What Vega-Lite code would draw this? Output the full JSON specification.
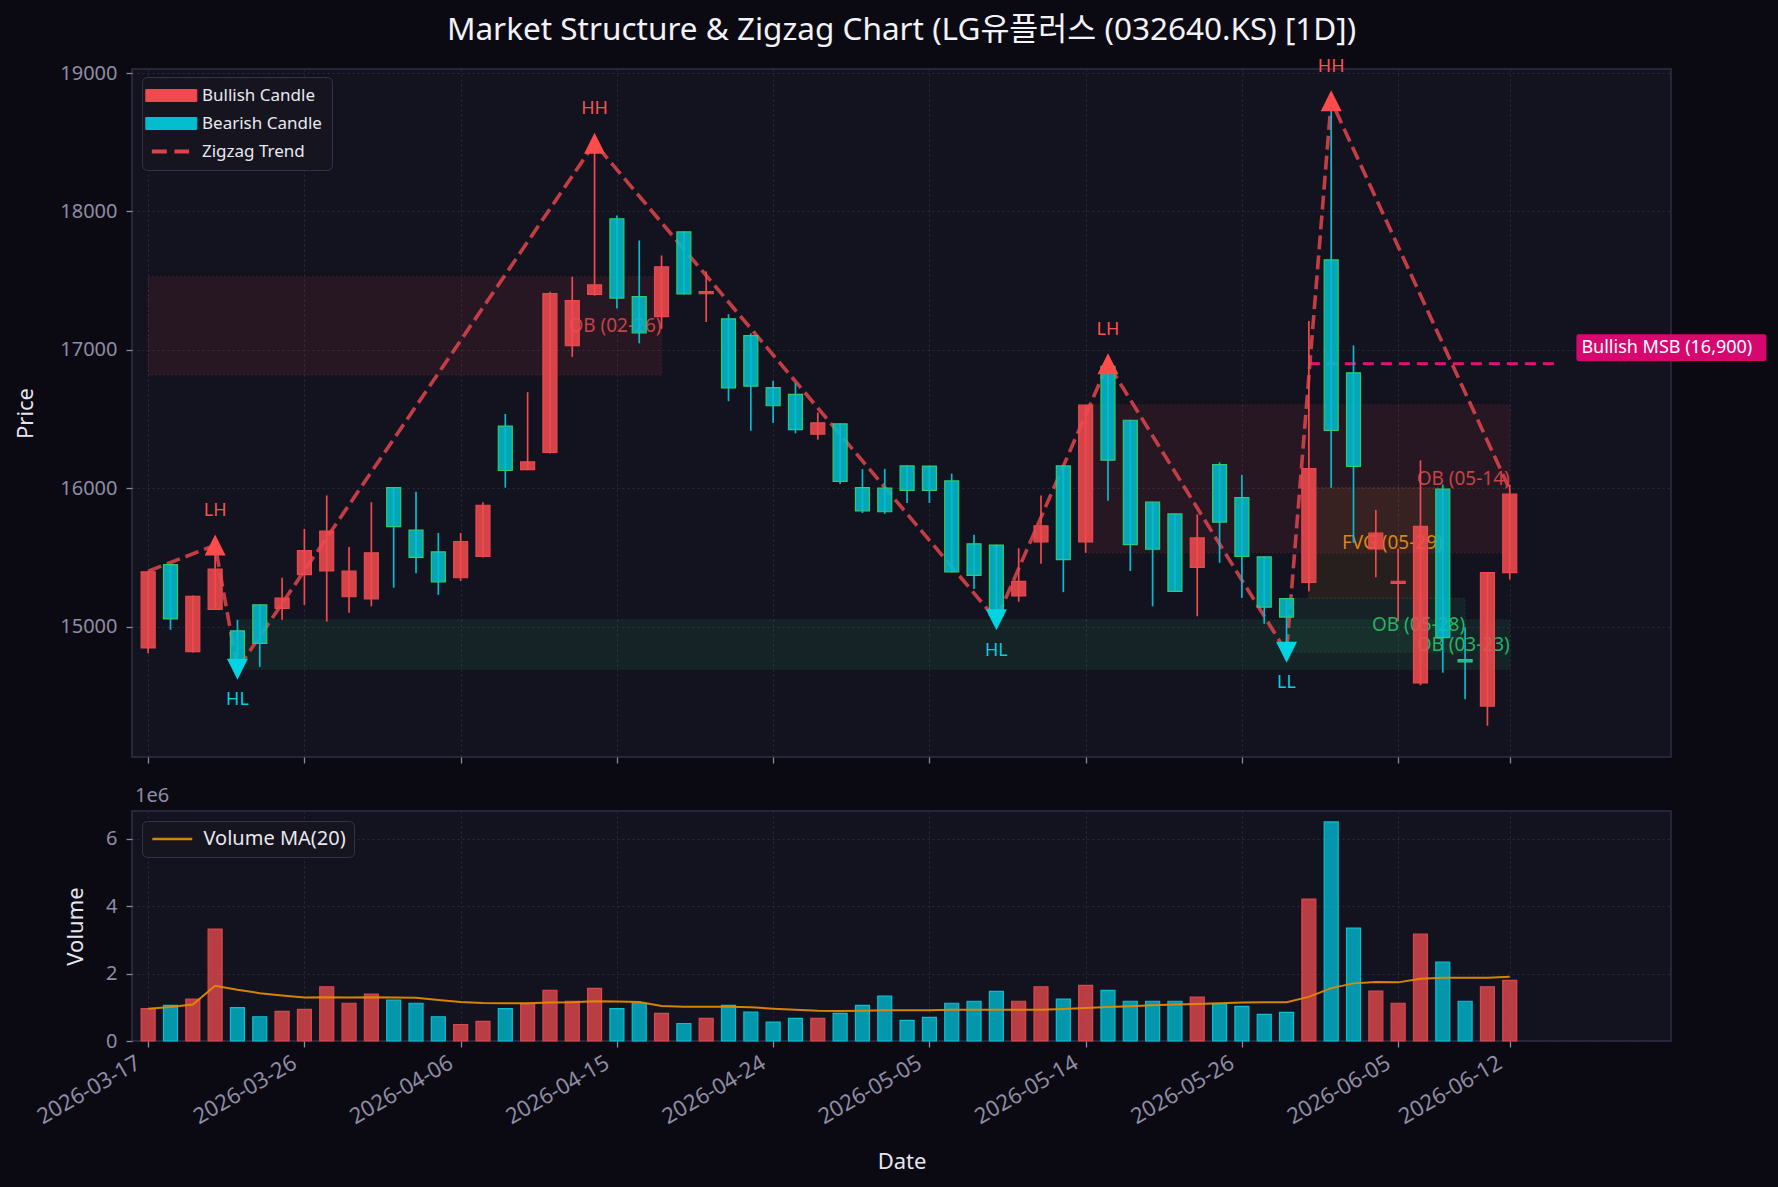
{
  "$schema": "https://vega.github.io/schema/vega-lite/v6.json",
  "background": "#0b0a13",
  "padding": {"left": 14, "top": 14, "right": 13, "bottom": 16},
  "bounds": "flush",
  "spacing": 54,
  "config": {
    "font": "Noto Sans",
    "view": {"stroke": "#302e46", "strokeWidth": 1.5, "fill": "#13121f"},
    "axis": {
      "domain": false, "grid": true, "gridColor": "#2b2a3c", "gridDash": [2, 3], "gridWidth": 1,
      "tickColor": "#8a879e", "tickSize": 6, "tickWidth": 1.3,
      "labelColor": "#8f8ca3", "labelFontSize": 20, "labelFont": "Noto Sans",
      "titleColor": "#e6e6ee", "titleFontSize": 22, "titleFontWeight": "normal", "titleFont": "Noto Sans"
    },
    "legend": {"labelFont": "Noto Sans"}
  },
  "datasets": {
    "candles": [
      {"i":0,"d":"2026-03-17","o":14846,"h":15400,"l":14807,"c":15396,"v":960000,"ma":960000,"dir":"Bullish Candle"},
      {"i":1,"d":"2026-03-18","o":15448,"h":15450,"l":14977,"c":15056,"v":1060000,"ma":1010000,"dir":"Bearish Candle"},
      {"i":2,"d":"2026-03-19","o":14820,"h":15225,"l":14813,"c":15219,"v":1240000,"ma":1080000,"dir":"Bullish Candle"},
      {"i":3,"d":"2026-03-20","o":15124,"h":15589,"l":15120,"c":15415,"v":3320000,"ma":1640000,"dir":"Bullish Candle"},
      {"i":4,"d":"2026-03-23","o":14970,"h":15049,"l":14692,"c":14748,"v":990000,"ma":1520000,"dir":"Bearish Candle"},
      {"i":5,"d":"2026-03-24","o":15157,"h":15160,"l":14709,"c":14879,"v":720000,"ma":1420000,"dir":"Bearish Candle"},
      {"i":6,"d":"2026-03-25","o":15131,"h":15353,"l":15049,"c":15206,"v":880000,"ma":1350000,"dir":"Bullish Candle"},
      {"i":7,"d":"2026-03-26","o":15376,"h":15706,"l":15157,"c":15549,"v":940000,"ma":1290000,"dir":"Bullish Candle"},
      {"i":8,"d":"2026-03-27","o":15402,"h":15948,"l":15036,"c":15690,"v":1610000,"ma":1300000,"dir":"Bullish Candle"},
      {"i":9,"d":"2026-03-30","o":15216,"h":15576,"l":15101,"c":15402,"v":1120000,"ma":1290000,"dir":"Bullish Candle"},
      {"i":10,"d":"2026-03-31","o":15200,"h":15899,"l":15147,"c":15533,"v":1390000,"ma":1300000,"dir":"Bullish Candle"},
      {"i":11,"d":"2026-04-01","o":16004,"h":16008,"l":15281,"c":15723,"v":1210000,"ma":1290000,"dir":"Bearish Candle"},
      {"i":12,"d":"2026-04-02","o":15697,"h":15975,"l":15386,"c":15500,"v":1120000,"ma":1280000,"dir":"Bearish Candle"},
      {"i":13,"d":"2026-04-03","o":15540,"h":15677,"l":15229,"c":15324,"v":720000,"ma":1220000,"dir":"Bearish Candle"},
      {"i":14,"d":"2026-04-06","o":15353,"h":15677,"l":15330,"c":15615,"v":490000,"ma":1160000,"dir":"Bullish Candle"},
      {"i":15,"d":"2026-04-07","o":15507,"h":15899,"l":15500,"c":15877,"v":580000,"ma":1130000,"dir":"Bullish Candle"},
      {"i":16,"d":"2026-04-08","o":16449,"h":16537,"l":16004,"c":16128,"v":960000,"ma":1120000,"dir":"Bearish Candle"},
      {"i":17,"d":"2026-04-09","o":16135,"h":16694,"l":16130,"c":16190,"v":1090000,"ma":1120000,"dir":"Bullish Candle"},
      {"i":18,"d":"2026-04-10","o":16259,"h":17420,"l":16250,"c":17407,"v":1500000,"ma":1140000,"dir":"Bullish Candle"},
      {"i":19,"d":"2026-04-13","o":17031,"h":17528,"l":16949,"c":17355,"v":1180000,"ma":1150000,"dir":"Bullish Candle"},
      {"i":20,"d":"2026-04-14","o":17401,"h":18493,"l":17391,"c":17469,"v":1560000,"ma":1180000,"dir":"Bullish Candle"},
      {"i":21,"d":"2026-04-15","o":17947,"h":17970,"l":17299,"c":17374,"v":960000,"ma":1170000,"dir":"Bearish Candle"},
      {"i":22,"d":"2026-04-16","o":17384,"h":17790,"l":17047,"c":17123,"v":1120000,"ma":1160000,"dir":"Bearish Candle"},
      {"i":23,"d":"2026-04-17","o":17240,"h":17682,"l":17152,"c":17600,"v":820000,"ma":1040000,"dir":"Bullish Candle"},
      {"i":24,"d":"2026-04-20","o":17852,"h":17855,"l":17400,"c":17404,"v":520000,"ma":1020000,"dir":"Bearish Candle"},
      {"i":25,"d":"2026-04-21","o":17405,"h":17567,"l":17201,"c":17420,"v":670000,"ma":1020000,"dir":"Bullish Candle"},
      {"i":26,"d":"2026-04-22","o":17224,"h":17257,"l":16629,"c":16724,"v":1060000,"ma":1020000,"dir":"Bearish Candle"},
      {"i":27,"d":"2026-04-23","o":17103,"h":17119,"l":16416,"c":16737,"v":860000,"ma":1000000,"dir":"Bearish Candle"},
      {"i":28,"d":"2026-04-24","o":16727,"h":16776,"l":16472,"c":16596,"v":560000,"ma":960000,"dir":"Bearish Candle"},
      {"i":29,"d":"2026-04-27","o":16678,"h":16760,"l":16397,"c":16423,"v":670000,"ma":930000,"dir":"Bearish Candle"},
      {"i":30,"d":"2026-04-28","o":16390,"h":16547,"l":16351,"c":16472,"v":670000,"ma":900000,"dir":"Bullish Candle"},
      {"i":31,"d":"2026-04-29","o":16465,"h":16468,"l":16030,"c":16050,"v":820000,"ma":890000,"dir":"Bearish Candle"},
      {"i":32,"d":"2026-04-30","o":16004,"h":16138,"l":15821,"c":15837,"v":1060000,"ma":900000,"dir":"Bearish Candle"},
      {"i":33,"d":"2026-05-01","o":16000,"h":16140,"l":15815,"c":15830,"v":1330000,"ma":910000,"dir":"Bearish Candle"},
      {"i":34,"d":"2026-05-04","o":16161,"h":16165,"l":15893,"c":15984,"v":610000,"ma":910000,"dir":"Bearish Candle"},
      {"i":35,"d":"2026-05-05","o":16160,"h":16162,"l":15893,"c":15985,"v":700000,"ma":910000,"dir":"Bearish Candle"},
      {"i":36,"d":"2026-05-06","o":16053,"h":16105,"l":15390,"c":15396,"v":1120000,"ma":930000,"dir":"Bearish Candle"},
      {"i":37,"d":"2026-05-07","o":15598,"h":15664,"l":15271,"c":15370,"v":1180000,"ma":930000,"dir":"Bearish Candle"},
      {"i":38,"d":"2026-05-08","o":15589,"h":15592,"l":15050,"c":15080,"v":1470000,"ma":930000,"dir":"Bearish Candle"},
      {"i":39,"d":"2026-05-11","o":15222,"h":15566,"l":15180,"c":15327,"v":1180000,"ma":930000,"dir":"Bullish Candle"},
      {"i":40,"d":"2026-05-12","o":15612,"h":15948,"l":15455,"c":15729,"v":1610000,"ma":930000,"dir":"Bullish Candle"},
      {"i":41,"d":"2026-05-13","o":16161,"h":16165,"l":15249,"c":15484,"v":1240000,"ma":950000,"dir":"Bearish Candle"},
      {"i":42,"d":"2026-05-14","o":15612,"h":16603,"l":15533,"c":16600,"v":1650000,"ma":980000,"dir":"Bullish Candle"},
      {"i":43,"d":"2026-05-15","o":16880,"h":16900,"l":15910,"c":16203,"v":1500000,"ma":1010000,"dir":"Bearish Candle"},
      {"i":44,"d":"2026-05-18","o":16491,"h":16495,"l":15402,"c":15592,"v":1180000,"ma":1030000,"dir":"Bearish Candle"},
      {"i":45,"d":"2026-05-19","o":15899,"h":15902,"l":15147,"c":15559,"v":1180000,"ma":1060000,"dir":"Bearish Candle"},
      {"i":46,"d":"2026-05-20","o":15814,"h":15816,"l":15250,"c":15255,"v":1180000,"ma":1080000,"dir":"Bearish Candle"},
      {"i":47,"d":"2026-05-21","o":15428,"h":15811,"l":15075,"c":15641,"v":1300000,"ma":1100000,"dir":"Bullish Candle"},
      {"i":48,"d":"2026-05-22","o":16171,"h":16187,"l":15461,"c":15755,"v":1100000,"ma":1120000,"dir":"Bearish Candle"},
      {"i":49,"d":"2026-05-26","o":15932,"h":16095,"l":15206,"c":15507,"v":1030000,"ma":1140000,"dir":"Bearish Candle"},
      {"i":50,"d":"2026-05-27","o":15504,"h":15506,"l":15020,"c":15141,"v":790000,"ma":1150000,"dir":"Bearish Candle"},
      {"i":51,"d":"2026-05-28","o":15203,"h":15205,"l":14815,"c":15069,"v":850000,"ma":1150000,"dir":"Bearish Candle"},
      {"i":52,"d":"2026-05-29","o":15320,"h":17208,"l":15255,"c":16142,"v":4210000,"ma":1310000,"dir":"Bullish Candle"},
      {"i":53,"d":"2026-06-01","o":17650,"h":18800,"l":16004,"c":16418,"v":6500000,"ma":1570000,"dir":"Bearish Candle"},
      {"i":54,"d":"2026-06-02","o":16834,"h":17032,"l":15605,"c":16158,"v":3350000,"ma":1710000,"dir":"Bearish Candle"},
      {"i":55,"d":"2026-06-04","o":15561,"h":15843,"l":15357,"c":15675,"v":1480000,"ma":1750000,"dir":"Bullish Candle"},
      {"i":56,"d":"2026-06-05","o":15312,"h":15565,"l":15039,"c":15328,"v":1120000,"ma":1740000,"dir":"Bullish Candle"},
      {"i":57,"d":"2026-06-08","o":14593,"h":16201,"l":14576,"c":15725,"v":3170000,"ma":1850000,"dir":"Bullish Candle"},
      {"i":58,"d":"2026-06-09","o":15993,"h":16027,"l":14667,"c":14921,"v":2340000,"ma":1880000,"dir":"Bearish Candle"},
      {"i":59,"d":"2026-06-10","o":14762,"h":14995,"l":14476,"c":14745,"v":1180000,"ma":1880000,"dir":"Bearish Candle"},
      {"i":60,"d":"2026-06-11","o":14426,"h":15395,"l":14284,"c":15390,"v":1610000,"ma":1880000,"dir":"Bullish Candle"},
      {"i":61,"d":"2026-06-12","o":15390,"h":16024,"l":15340,"c":15957,"v":1800000,"ma":1910000,"dir":"Bullish Candle"}
    ],
    "zig": [
      {"i":0,"p":15400},{"i":3,"p":15589},{"i":4,"p":14692},{"i":20,"p":18493},{"i":38,"p":15050},
      {"i":43,"p":16900},{"i":51,"p":14815},{"i":53,"p":18800},{"i":61,"p":15990}
    ],
    "highs": [
      {"i":3,"p":15589,"t":"LH"},{"i":20,"p":18493,"t":"HH"},{"i":43,"p":16900,"t":"LH"},{"i":53,"p":18800,"t":"HH"}
    ],
    "lows": [
      {"i":4,"p":14692,"t":"HL"},{"i":38,"p":15050,"t":"HL"},{"i":51,"p":14815,"t":"LL"}
    ],
    "zones": [
      {"x1":0,"x2":23,"y1":16818,"y2":17528,"mid":17173,"kind":"bear","label":"OB (02-26)"},
      {"x1":4,"x2":61,"y1":14692,"y2":15049,"mid":14870,"kind":"bull","label":"OB (03-23)"},
      {"x1":42,"x2":61,"y1":15533,"y2":16603,"mid":16068,"kind":"bear","label":"OB (05-14)"},
      {"x1":51,"x2":59,"y1":14815,"y2":15205,"mid":15010,"kind":"bull","label":"OB (05-28)"},
      {"x1":52,"x2":58,"y1":15205,"y2":16004,"mid":15604,"kind":"fvg","label":"FVG (05-29)"}
    ],
    "msb": [
      {"x1":52,"x2":63,"level":16900,"label":"Bullish MSB (16,900)"}
    ]
  },
  "vconcat": [
    {
      "width": 1539,
      "height": 688,
      "title": {"text": "Market Structure & Zigzag Chart (LG유플러스 (032640.KS) [1D])", "font": "Noto Sans, Noto Sans CJK KR", "fontSize": 31.5, "fontWeight": "normal", "color": "#f2f2f7", "anchor": "middle", "frame": "group", "offset": 11},
      "layer": [
        {
          "data": {"name": "zones"},
          "mark": {"type": "rect", "fillOpacity": 0.09, "strokeOpacity": 0.18, "strokeDash": [2, 2], "strokeWidth": 1},
          "encoding": {
            "x": {"field": "x1", "type": "quantitative", "scale": {"domain": [-0.5, 68], "nice": false, "zero": false},
              "axis": {"values": [0, 7, 14, 21, 28, 35, 42, 49, 56, 61], "labels": false, "title": null}},
            "x2": {"field": "x2"},
            "y": {"field": "y1", "type": "quantitative", "scale": {"domain": [14058, 19029], "nice": false, "zero": false},
              "axis": {"values": [15000, 16000, 17000, 18000, 19000], "format": "d", "title": "Price", "titlePadding": 22, "labelPadding": 9}},
            "y2": {"field": "y2"},
            "fill": {"field": "kind", "type": "nominal", "scale": {"domain": ["bear", "bull", "fvg"], "range": ["#e84a4f", "#2ecc71", "#f39c12"]}, "legend": null},
            "stroke": {"field": "kind", "type": "nominal", "scale": {"domain": ["bear", "bull", "fvg"], "range": ["#e84a4f", "#2ecc71", "#f39c12"]}, "legend": null}
          }
        },
        {
          "data": {"name": "zones"},
          "mark": {"type": "text", "align": "right", "baseline": "middle", "fontSize": 19, "fillOpacity": 0.85},
          "encoding": {
            "x": {"field": "x2", "type": "quantitative", "scale": {"domain": [-0.5, 68], "nice": false, "zero": false}},
            "y": {"field": "mid", "type": "quantitative", "scale": {"domain": [14058, 19029], "nice": false, "zero": false}},
            "text": {"field": "label"},
            "fill": {"field": "kind", "type": "nominal", "scale": {"domain": ["bear", "bull", "fvg"], "range": ["#e84a4f", "#2ecc71", "#f39c12"]}, "legend": null}
          }
        },
        {
          "data": {"name": "msb"},
          "mark": {"type": "rule", "color": "#e8107a", "strokeWidth": 2.6, "strokeDash": [11, 7]},
          "encoding": {
            "x": {"field": "x1", "type": "quantitative", "scale": {"domain": [-0.5, 68], "nice": false, "zero": false}},
            "x2": {"field": "x2"},
            "y": {"field": "level", "type": "quantitative", "scale": {"domain": [14058, 19029], "nice": false, "zero": false}}
          }
        },
        {
          "data": {"name": "zig"},
          "mark": {"type": "line", "strokeWidth": 3.6, "strokeDash": [14, 6], "opacity": 0.88},
          "encoding": {
            "x": {"field": "i", "type": "quantitative", "scale": {"domain": [-0.5, 68], "nice": false, "zero": false}},
            "y": {"field": "p", "type": "quantitative", "scale": {"domain": [14058, 19029], "nice": false, "zero": false}},
            "color": {"datum": "Zigzag Trend"}
          }
        },
        {
          "data": {"name": "candles"},
          "mark": {"type": "rule", "strokeWidth": 1.7},
          "encoding": {
            "x": {"field": "i", "type": "quantitative", "scale": {"domain": [-0.5, 68], "nice": false, "zero": false}},
            "y": {"field": "l", "type": "quantitative", "scale": {"domain": [14058, 19029], "nice": false, "zero": false}},
            "y2": {"field": "h"},
            "color": {"field": "dir", "type": "nominal"}
          }
        },
        {
          "data": {"name": "candles"},
          "mark": {"type": "bar", "width": 14, "fillOpacity": 0.88, "strokeWidth": 1.2},
          "encoding": {
            "x": {"field": "i", "type": "quantitative", "scale": {"domain": [-0.5, 68], "nice": false, "zero": false}},
            "y": {"field": "o", "type": "quantitative", "scale": {"domain": [14058, 19029], "nice": false, "zero": false}},
            "y2": {"field": "c"},
            "stroke": {"field": "dir", "type": "nominal", "scale": {"domain": ["Bullish Candle", "Bearish Candle"], "range": ["#ff5e5e", "#14d2e4"]}, "legend": null},
            "color": {"field": "dir", "type": "nominal",
              "scale": {"domain": ["Bullish Candle", "Bearish Candle", "Zigzag Trend"], "range": ["#ef4a4d", "#03bccd", "#dc434b"]},
              "legend": {
                "title": null, "orient": "none", "legendX": 10, "legendY": 8, "direction": "vertical",
                "padding": 10, "fillColor": "#15141f", "strokeColor": "#34324a", "cornerRadius": 5,
                "symbolSize": 144, "symbolType": "M-2.45,-1L6.05,-1L6.05,1L-2.45,1Z", "symbolStrokeWidth": 1,
                "labelFontSize": 17, "labelColor": "#e8e8ef", "labelOffset": 33, "rowPadding": 10,
                "encode": {
                  "symbols": {
                    "update": {
                      "shape": {"signal": "datum.value === 'Zigzag Trend' ? 'M-1.45,0L1.05,0M2.33,0L4.77,0' : 'M-2.45,-1L6.05,-1L6.05,1L-2.45,1Z'"},
                      "fill": {"signal": "datum.value === 'Bullish Candle' ? '#d0454a' : (datum.value === 'Bearish Candle' ? '#00abb8' : 'transparent')"},
                      "stroke": {"signal": "datum.value === 'Bullish Candle' ? '#d0454a' : (datum.value === 'Bearish Candle' ? '#00abb8' : '#d9444b')"},
                      "strokeWidth": {"signal": "datum.value === 'Zigzag Trend' ? 4 : 1"}
                    }
                  }
                }
              }
            }
          }
        },
        {
          "data": {"name": "highs"},
          "mark": {"type": "point", "shape": "M0,-1L1,1L-1,1Z", "size": 441, "filled": true, "color": "#ff4b4b", "opacity": 1},
          "encoding": {
            "x": {"field": "i", "type": "quantitative", "scale": {"domain": [-0.5, 68], "nice": false, "zero": false}},
            "y": {"field": "p", "type": "quantitative", "scale": {"domain": [14058, 19029], "nice": false, "zero": false}}
          }
        },
        {
          "data": {"name": "lows"},
          "mark": {"type": "point", "shape": "M0,1L1,-1L-1,-1Z", "size": 441, "filled": true, "color": "#00d3e3", "opacity": 1},
          "encoding": {
            "x": {"field": "i", "type": "quantitative", "scale": {"domain": [-0.5, 68], "nice": false, "zero": false}},
            "y": {"field": "p", "type": "quantitative", "scale": {"domain": [14058, 19029], "nice": false, "zero": false}}
          }
        },
        {
          "data": {"name": "highs"},
          "mark": {"type": "text", "dy": -34, "fontSize": 18, "color": "#ff5050", "align": "center", "baseline": "middle"},
          "encoding": {
            "x": {"field": "i", "type": "quantitative", "scale": {"domain": [-0.5, 68], "nice": false, "zero": false}},
            "y": {"field": "p", "type": "quantitative", "scale": {"domain": [14058, 19029], "nice": false, "zero": false}},
            "text": {"field": "t"}
          }
        },
        {
          "data": {"name": "lows"},
          "mark": {"type": "text", "dy": 31, "fontSize": 18, "color": "#00cfe0", "align": "center", "baseline": "middle"},
          "encoding": {
            "x": {"field": "i", "type": "quantitative", "scale": {"domain": [-0.5, 68], "nice": false, "zero": false}},
            "y": {"field": "p", "type": "quantitative", "scale": {"domain": [14058, 19029], "nice": false, "zero": false}},
            "text": {"field": "t"}
          }
        },
        {
          "data": {"name": "msb"},
          "mark": {"type": "point", "shape": "M24,-29.4H210Q212,-29.4 212,-27.4V-4.7Q212,-2.7 210,-2.7H24Q22,-2.7 22,-4.7V-27.4Q22,-29.4 24,-29.4Z", "size": 4, "filled": true, "color": "#d6076f", "opacity": 1},
          "encoding": {
            "x": {"field": "x2", "type": "quantitative", "scale": {"domain": [-0.5, 68], "nice": false, "zero": false}},
            "y": {"field": "level", "type": "quantitative", "scale": {"domain": [14058, 19029], "nice": false, "zero": false}}
          }
        },
        {
          "data": {"name": "msb"},
          "mark": {"type": "text", "dx": 27, "dy": -16, "align": "left", "baseline": "middle", "fontSize": 18, "color": "#ffffff"},
          "encoding": {
            "x": {"field": "x2", "type": "quantitative", "scale": {"domain": [-0.5, 68], "nice": false, "zero": false}},
            "y": {"field": "level", "type": "quantitative", "scale": {"domain": [14058, 19029], "nice": false, "zero": false}},
            "text": {"field": "label"}
          }
        }
      ]
    },
    {
      "width": 1539,
      "height": 230,
      "title": {"text": "1e6", "anchor": "start", "frame": "group", "fontSize": 20, "fontWeight": "normal", "color": "#8f8ca3", "offset": 5, "dx": 3, "font": "Noto Sans"},
      "data": {"name": "candles"},
      "layer": [
        {
          "mark": {"type": "bar", "width": 14, "fillOpacity": 0.78, "strokeWidth": 1.2},
          "encoding": {
            "x": {"field": "i", "type": "quantitative", "scale": {"domain": [-0.5, 68], "nice": false, "zero": false},
              "axis": {"values": [0, 7, 14, 21, 28, 35, 42, 49, 56, 61],
                "labelExpr": "datum.value == 61 ? '2026-06-12' : ['2026-03-17','2026-03-26','2026-04-06','2026-04-15','2026-04-24','2026-05-05','2026-05-14','2026-05-26','2026-06-05'][datum.value / 7]",
                "labelAngle": -30, "labelAlign": "right", "labelBaseline": "top", "labelPadding": 5, "labelOffset": -15, "labelFontSize": 22, "labelOverlap": false, "labelFlush": false,
                "title": "Date", "titlePadding": 24}},
            "y": {"field": "v", "type": "quantitative", "scale": {"domain": [0, 6825000], "nice": false},
              "axis": {"values": [0, 2000000, 4000000, 6000000], "labelExpr": "datum.value / 1000000", "title": "Volume", "titlePadding": 18, "labelPadding": 9}},
            "fill": {"field": "dir", "type": "nominal", "scale": {"domain": ["Bullish Candle", "Bearish Candle"], "range": ["#e84a4f", "#00bcd4"]}, "legend": null},
            "stroke": {"field": "dir", "type": "nominal", "scale": {"domain": ["Bullish Candle", "Bearish Candle"], "range": ["#dc474c", "#0bbfd2"]}, "legend": null}
          }
        },
        {
          "mark": {"type": "line", "strokeWidth": 2, "opacity": 0.95},
          "encoding": {
            "x": {"field": "i", "type": "quantitative", "scale": {"domain": [-0.5, 68], "nice": false, "zero": false}},
            "y": {"field": "ma", "type": "quantitative", "scale": {"domain": [0, 6825000], "nice": false}},
            "color": {"datum": "Volume MA(20)", "scale": {"domain": ["Volume MA(20)"], "range": ["#e08a00"]},
              "legend": {"title": null, "orient": "none", "legendX": 10, "legendY": 10, "padding": 8,
                "fillColor": "#15141f", "strokeColor": "#34324a", "cornerRadius": 5,
                "symbolType": "M-1.28,0L5.38,0", "symbolSize": 144, "symbolStrokeWidth": 2.5,
                "labelFontSize": 20, "labelColor": "#e8e8ef", "labelOffset": 33.5}}
          }
        }
      ]
    }
  ],
  "resolve": {
    "scale": {"color": "independent", "fill": "independent", "stroke": "independent", "x": "independent", "y": "independent"},
    "legend": {"color": "independent"}
  }
}
